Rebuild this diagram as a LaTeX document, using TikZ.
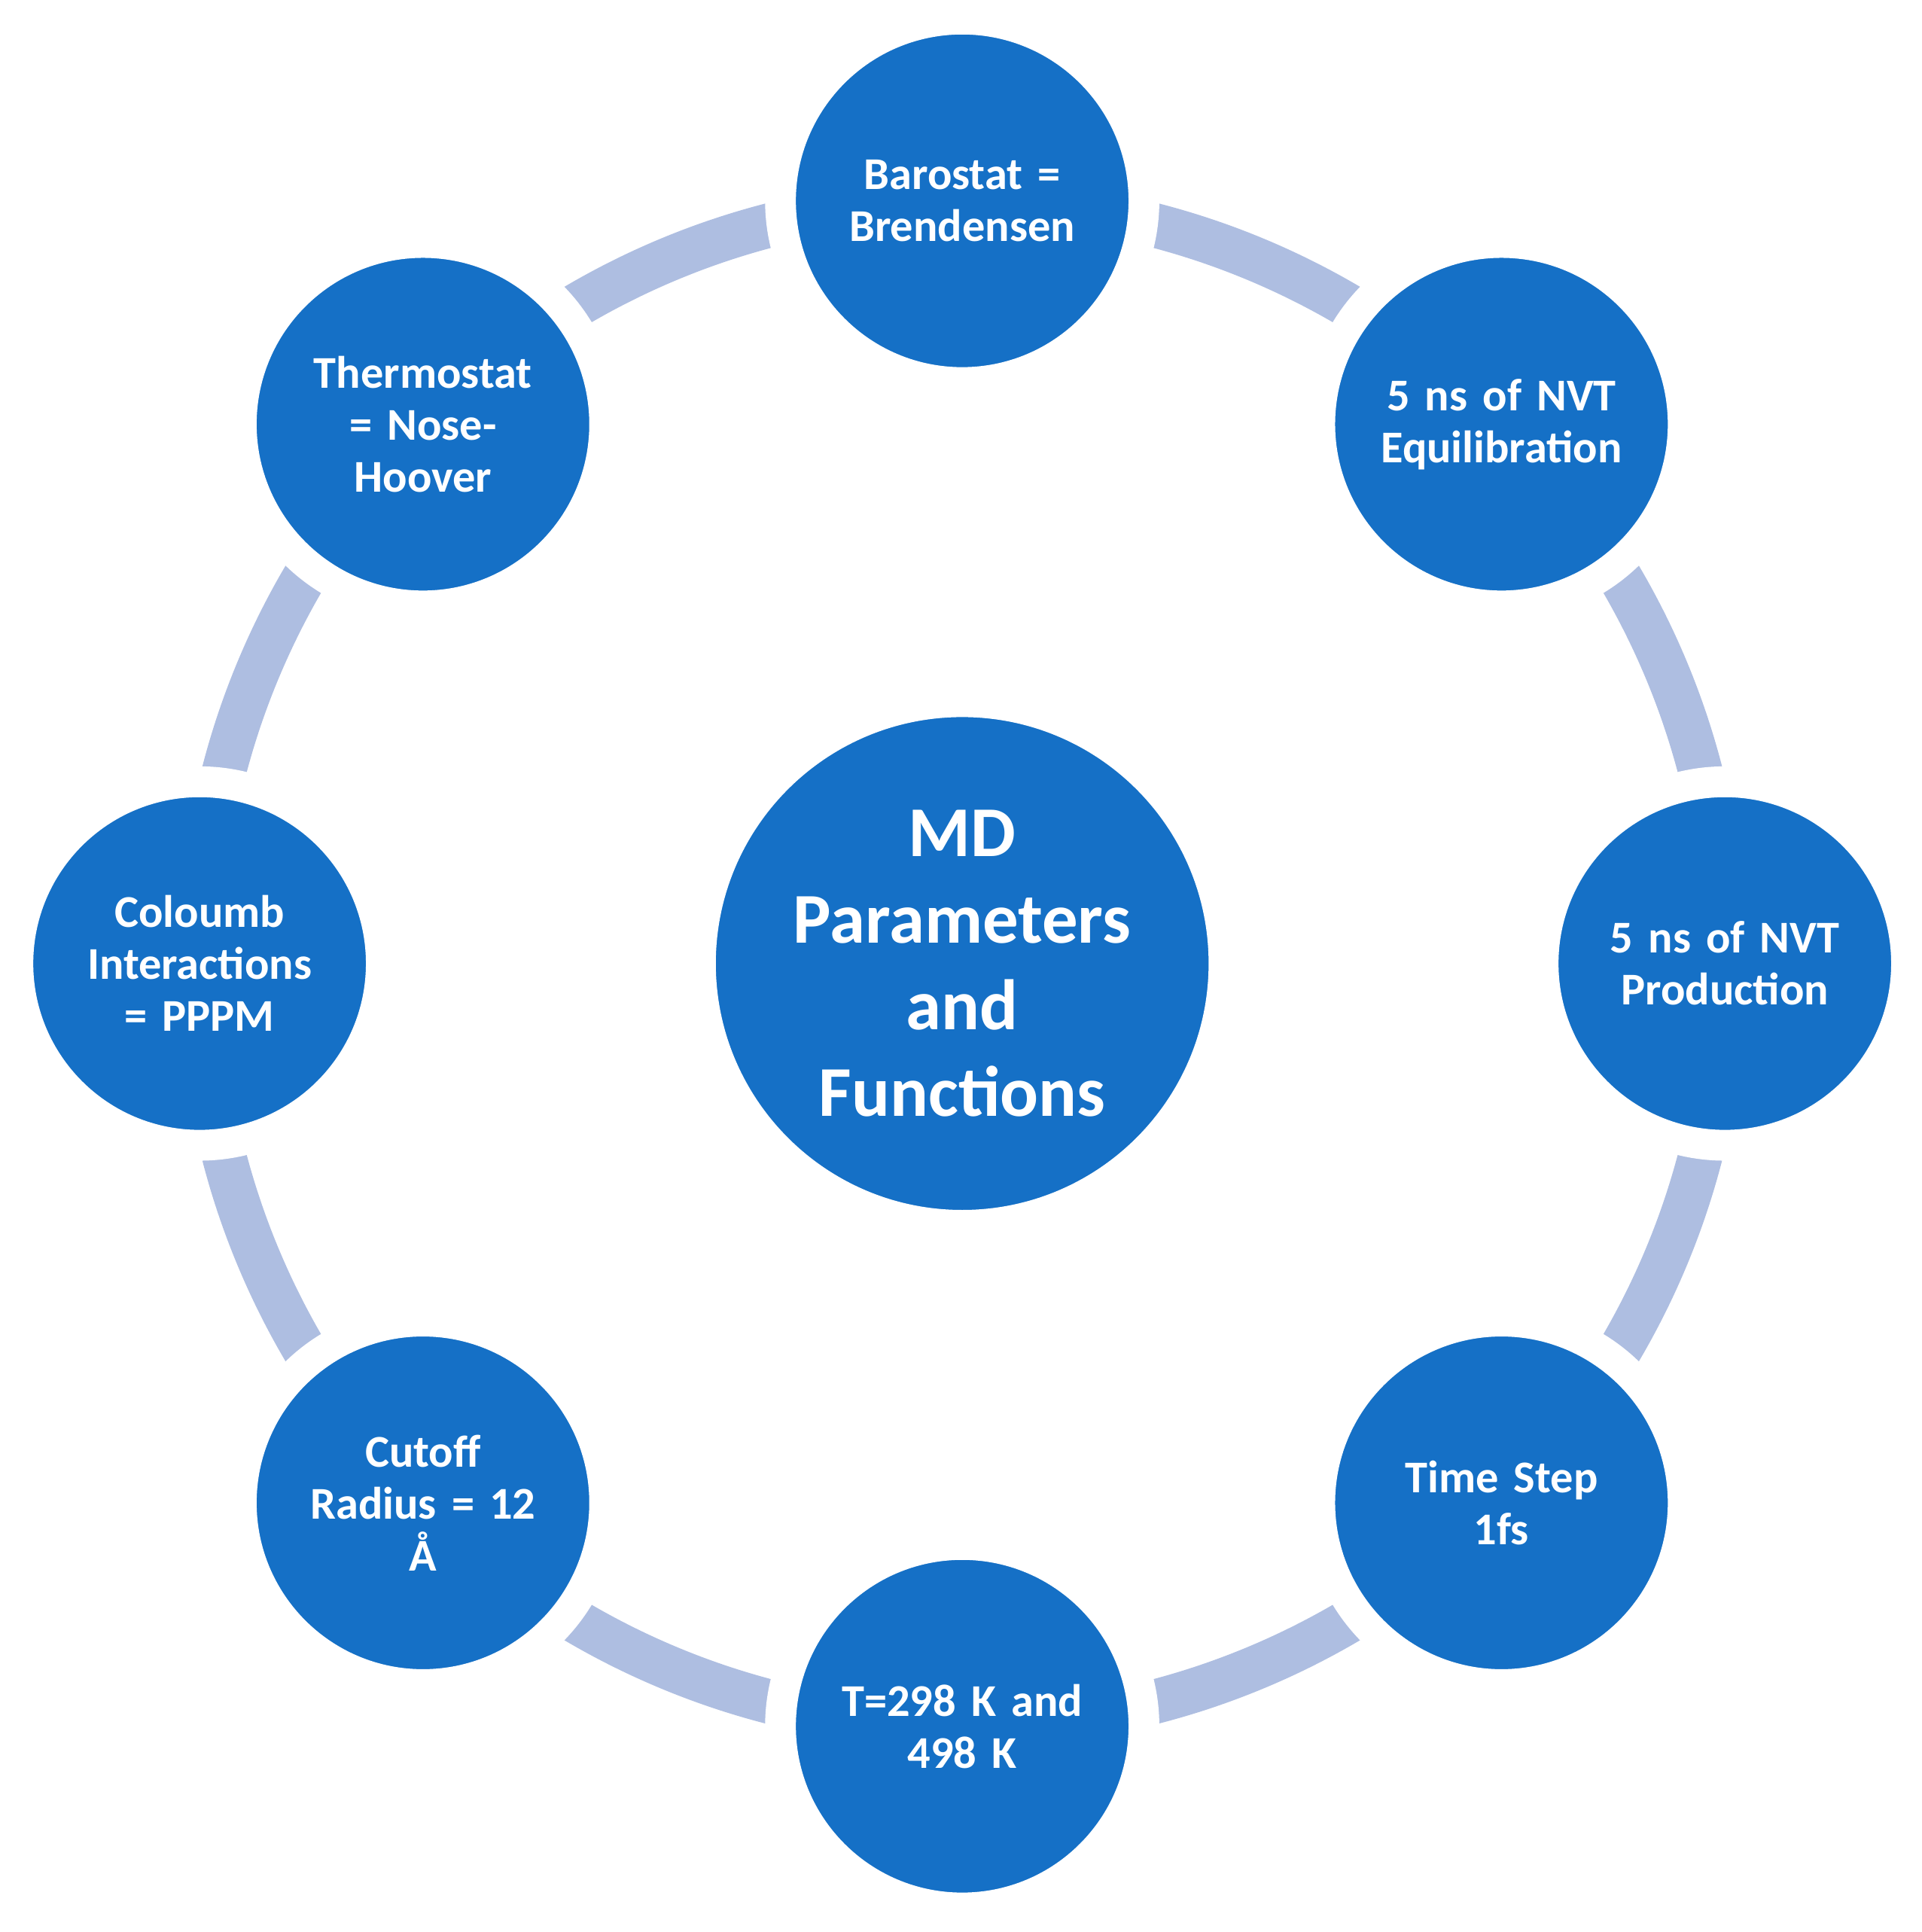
\documentclass[tikz,border=0pt]{standalone}
\usepackage{fontspec}
\setmainfont{Carlito}
\usetikzlibrary{positioning,calc}
\definecolor{mdblue}{HTML}{1570C6}
\definecolor{mdring}{HTML}{AEBEE1}
\tikzset{param/.style={circle, fill=mdblue, draw=white, line width=2.5mm, minimum size=2.95cm,
		text=white, font=\bfseries\fontsize{10.5}{12}\selectfont, align=center, text width=2.2cm, inner sep=0pt}}
\tikzset{hub/.style={circle, fill=mdblue, draw=white, line width=2.5mm, minimum size=4.25cm,
		text=white, font=\bfseries\fontsize{16.5}{20}\selectfont, align=center, text width=3.2cm, inner sep=0pt}}

\begin{document}
\begin{tikzpicture}
		\useasboundingbox (0,0) rectangle (15.6,15.68);
		
		\coordinate (c) at (7.81,7.86);
		\draw[mdring, line width=3.6mm] (c) circle (6.19);
		
		\node[hub] (md) at (c) {MD\\Parameters\\and\\Functions};
		
		\foreach \ang/\name/\txt in {90/baro/{Barostat =\\Brendensen},
			45/equil/{5 ns of NVT\\Equilibration},
			0/prod/{5 ns of NVT\\Production},
			-45/step/{Time Step\\1fs},
			-90/temp/{T=298 K and\\498 K},
			-135/cut/{Cutoff\\Radius = 12\\Å},
			180/coul/{Coloumb\\Interactions\\= PPPM},
			135/thermo/{Thermostat\\= Nose-\\Hoover}}
		\node[param] (\name) at ($(c)+(\ang:6.19)$) {\txt};
		
\end{tikzpicture}
\end{document}
